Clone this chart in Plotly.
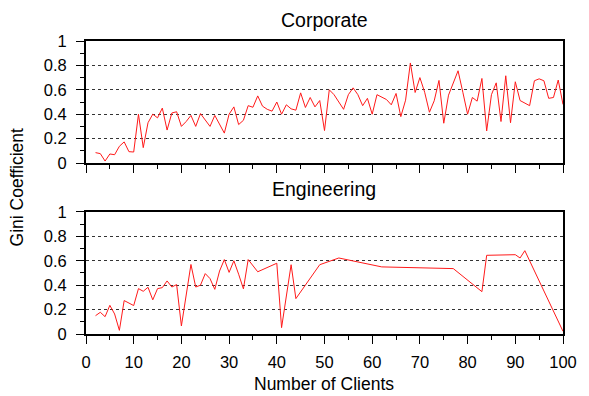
import plotly.graph_objects as go
from plotly.subplots import make_subplots

# ---- data ----
corp_clients = list(range(2, 101))
corp_gini = [0.085, 0.077, 0.016, 0.074, 0.068, 0.137, 0.173, 0.093, 0.09, 0.40,
             0.126, 0.33, 0.40, 0.37, 0.45, 0.27, 0.41, 0.42, 0.30, 0.34,
             0.39, 0.30, 0.405, 0.35, 0.30, 0.39, 0.315, 0.245, 0.40, 0.46,
             0.315, 0.35, 0.47, 0.457, 0.55, 0.466, 0.44, 0.425, 0.50, 0.40,
             0.477, 0.444, 0.433, 0.575, 0.455, 0.537, 0.46, 0.512, 0.266, 0.60,
             0.56, 0.50, 0.44, 0.56, 0.616, 0.56, 0.47, 0.53, 0.40, 0.56,
             0.54, 0.52, 0.477, 0.57, 0.38, 0.515, 0.82, 0.578, 0.70, 0.58,
             0.416, 0.51, 0.677, 0.326, 0.556, 0.65, 0.756, 0.58, 0.40, 0.537,
             0.507, 0.693, 0.263, 0.56, 0.657, 0.34, 0.715, 0.33, 0.666, 0.512,
             0.49, 0.47, 0.674, 0.69, 0.674, 0.53, 0.537, 0.68, 0.48]

eng_clients = [2, 3, 4, 5, 6, 7, 8, 9, 10, 11, 12, 13, 14, 15, 16, 17, 18, 19, 20,
               22, 23, 24, 25, 26, 27, 28, 29, 30, 31, 32, 33, 34, 36, 40, 41, 43,
               44, 49, 53, 62, 77, 83, 84, 90, 91, 92, 100]
eng_gini = [0.15, 0.178, 0.142, 0.235, 0.164, 0.03, 0.274, 0.25, 0.233, 0.372,
            0.35, 0.383, 0.28, 0.372, 0.38, 0.435, 0.385, 0.405, 0.066, 0.57,
            0.385, 0.40, 0.495, 0.454, 0.366, 0.516, 0.61, 0.505, 0.60, 0.49,
            0.37, 0.61, 0.51, 0.58, 0.052, 0.568, 0.29, 0.568, 0.623, 0.55,
            0.536, 0.347, 0.645, 0.65, 0.623, 0.683, 0.022]

panel_titles = ["Corporate", "Engineering"]
x_ticks = list(range(0, 101, 10))
y_ticks = [0, 0.2, 0.4, 0.6, 0.8, 1]
y_ticklabels = ["0", "0.2", "0.4", "0.6", "0.8", "1"]

FONT = "Liberation Sans, Arial, Helvetica, sans-serif"

W, H = 589, 396
L, R, T, B = 86, 16, 41, 62

fig = make_subplots(rows=2, cols=1, vertical_spacing=0.1672)
fig.add_trace(go.Scatter(x=corp_clients, y=corp_gini, mode="lines",
                         line=dict(color="#ff1a1a", width=1), showlegend=False), row=1, col=1)
fig.add_trace(go.Scatter(x=eng_clients, y=eng_gini, mode="lines",
                         line=dict(color="#ff1a1a", width=1), showlegend=False), row=2, col=1)

for r in (1, 2):
    fig.update_xaxes(range=[0, 100], tickvals=x_ticks, ticks="outside", ticklen=8,
                     tickwidth=1, tickcolor="black", showline=True, linecolor="black",
                     linewidth=2, mirror=True, showgrid=False, zeroline=False,
                     showticklabels=(r == 2), ticklabelstandoff=4,
                     tickfont=dict(family=FONT, size=16.5, color="black"),
                     minor=dict(dtick=5, ticks="outside", ticklen=4, tickcolor="black",
                                showgrid=False),
                     row=r, col=1)
    fig.update_yaxes(range=[0, 1], tickvals=y_ticks, ticktext=y_ticklabels,
                     ticks="outside", ticklen=8, tickwidth=1, tickcolor="black",
                     showline=True, linecolor="black", linewidth=2, mirror=True,
                     showgrid=True, gridcolor="#333333", griddash="dot", gridwidth=1,
                     zeroline=False, ticklabelstandoff=6,
                     tickfont=dict(family=FONT, size=16.5, color="black"),
                     minor=dict(dtick=0.1, ticks="outside", ticklen=4, tickcolor="black",
                                showgrid=False),
                     row=r, col=1)

# annotation positions given in window pixels, converted below
ann = [
    (panel_titles[0], 329, 20, 19.5, 0),
    (panel_titles[1], 329, 189, 19.5, 0),
    ("Number of Clients", 329, 384, 17.5, 0),
    ("Gini Coefficient", 16, 187, 17.5, -90),
]
plot_w = W - L - R
plot_h = H - T - B
annotations = []
for text, px, py, size, ang in ann:
    annotations.append(dict(
        text=text, showarrow=False, textangle=ang,
        x=(px - L) / plot_w, xref="paper",
        y=(H - B - py) / plot_h, yref="paper",
        xanchor="center", yanchor="middle",
        font=dict(size=size, family=FONT, color="black")))

fig.update_layout(
    width=W, height=H,
    margin=dict(l=L, r=R, t=T, b=B),
    paper_bgcolor="white", plot_bgcolor="white",
    font=dict(family=FONT, color="black"),
    annotations=annotations,
    hovermode=False,
)

# remove the browser's default page margin so the figure fills the window exactly
fig.write_html("out.html",
               config={"displayModeBar": False},
               post_script="document.body.style.margin='0';document.body.style.overflow='hidden';")
